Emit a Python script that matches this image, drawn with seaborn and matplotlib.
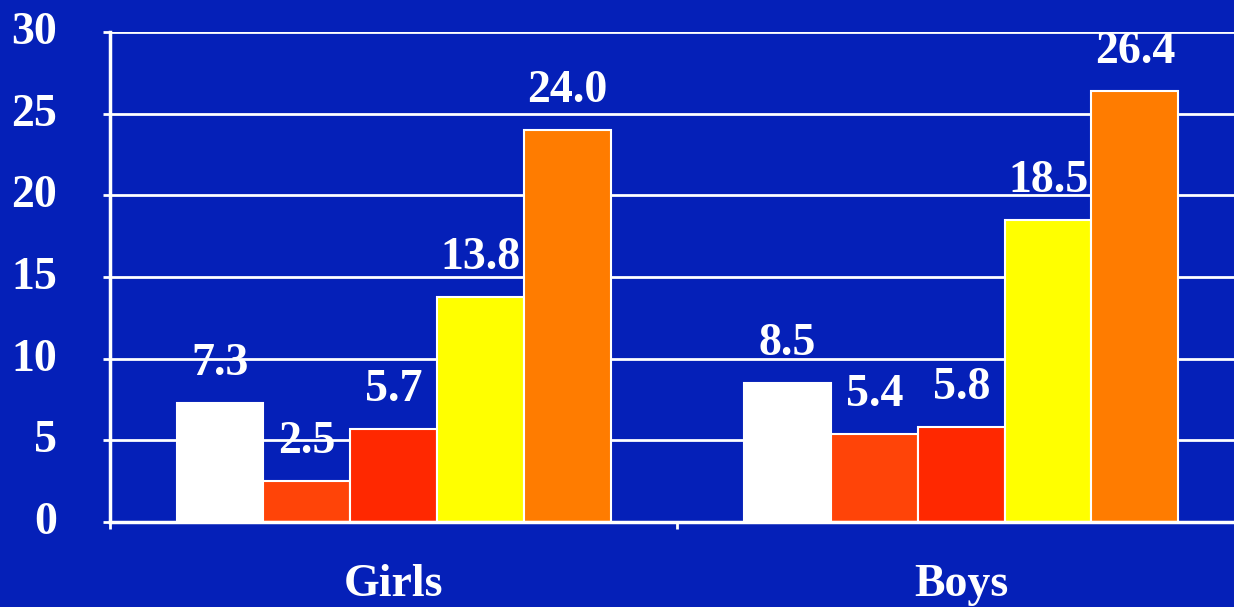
import matplotlib
matplotlib.use("Agg")
import matplotlib.pyplot as plt
import matplotlib.transforms as mtransforms
import seaborn as sns
import pandas as pd

groups = ["Girls", "Boys"]
series = ["S1", "S2", "S3", "S4", "S5"]
girls_values = [7.3, 2.5, 5.7, 13.8, 24.0]
boys_values = [8.5, 5.4, 5.8, 18.5, 26.4]
series_colors = ["#FFFFFF", "#FF4408", "#FF2800", "#FFFF00", "#FF7C00"]
y_ticks = [0, 5, 10, 15, 20, 25, 30]

rows = []
for g, vals in zip(groups, [girls_values, boys_values]):
    for s, v in zip(series, vals):
        rows.append({"group": g, "series": s, "value": v})
df = pd.DataFrame(rows)

bg = "#0520B8"
sns.set_theme(style="white")
plt.rcParams["font.family"] = ["Liberation Serif", "DejaVu Serif"]
plt.rcParams["font.weight"] = "bold"

fig = plt.figure(figsize=(12.34, 6.07), dpi=100, facecolor=bg)
ax = fig.add_axes([0.0891, 0.140, 0.9198, 0.807])
ax.set_facecolor(bg)

sns.barplot(data=df, x="group", y="value", hue="series", order=groups,
            hue_order=series, palette=series_colors, width=0.765,
            edgecolor="white", linewidth=1.5, saturation=1, ax=ax,
            legend=False, zorder=3)

ax.set_ylim(0, 30)
ax.set_yticks(y_ticks)
ax.set_yticklabels([str(t) for t in y_ticks])
ax.set_xlim(-0.5, 1.5)
ax.yaxis.grid(True, color="white", linewidth=2, zorder=0)
ax.set_axisbelow(True)
for side in ["top", "right"]:
    ax.spines[side].set_visible(False)
for side in ["left", "bottom"]:
    ax.spines[side].set_color("white")
    ax.spines[side].set_linewidth(2.5)
    ax.spines[side].set_zorder(5)

ax.tick_params(axis="y", colors="white", labelsize=33, length=5, width=2,
               pad=33, left=True)
ax.tick_params(axis="x", colors="white", labelsize=33, length=0, pad=30)
offset = mtransforms.ScaledTranslation(0, 3 / 72, fig.dpi_scale_trans)
for lab in ax.get_yticklabels():
    lab.set_fontweight("bold")
    lab.set_transform(lab.get_transform() + offset)
for lab in ax.get_xticklabels():
    lab.set_fontweight("bold")
ax.set_xlabel("")
ax.set_ylabel("")

# small boundary ticks on x axis
ax.set_xticks([-0.5, 0.5, 1.5], minor=True)
ax.tick_params(axis="x", which="minor", length=5, width=2, colors="white",
               direction="out", bottom=True)

for cont in ax.containers:
    ax.bar_label(cont, fmt="%.1f", padding=13, color="white", fontsize=33,
                 fontweight="bold")

fig.savefig("out.png", dpi=100, facecolor=bg)
